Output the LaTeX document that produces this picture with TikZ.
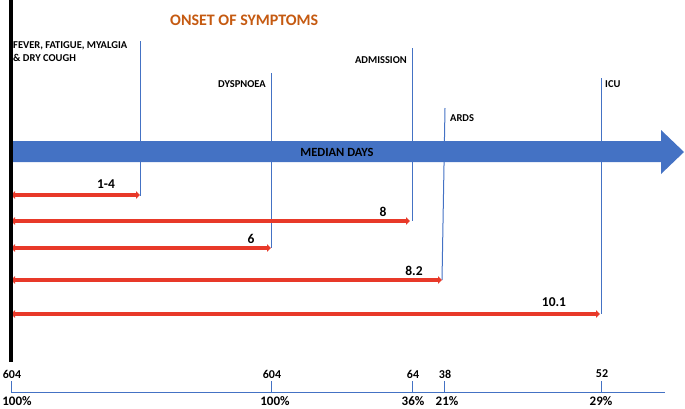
\documentclass[tikz,border=0pt]{standalone}
\usepackage{fontspec}
\setmainfont{Carlito}
\usetikzlibrary{arrows.meta}
\definecolor{obl}{RGB}{68,114,196}
\definecolor{otitle}{RGB}{197,90,17}
\definecolor{rarr}{RGB}{232,57,41}
\begin{document}
\begin{tikzpicture}[x=1pt,y=-1pt,
  evline/.style={obl, line width=1pt},
  durarrow/.style={rarr, line width=3.2pt, {Triangle[length=4pt,width=7.5pt]}-{Triangle[length=4pt,width=7.5pt]}},
  lbl/.style={font=\bfseries\fontsize{10.5}{13}\selectfont, inner sep=0pt},
  num/.style={font=\bfseries\fontsize{13.5}{15}\selectfont, inner sep=0pt},
  axnum/.style={font=\bfseries\fontsize{12}{14}\selectfont, inner sep=0pt},
  axpct/.style={font=\bfseries\fontsize{13}{15}\selectfont, inner sep=0pt}]
\useasboundingbox (0,0) rectangle (685,408);
% title
\node[inner sep=0pt, anchor=west, text=otitle, font=\bfseries\fontsize{16}{18}\selectfont] (title) at (170,20) {ONSET OF SYMPTOMS};
% event labels
\node[lbl, anchor=north west, align=left] (fever) at (13,41) {FEVER, FATIGUE, MYALGIA\\\& DRY COUGH};
\node[lbl, anchor=east] (dysp) at (266,84) {DYSPNOEA};
\node[lbl, anchor=east] (adm) at (407,60) {ADMISSION};
\node[lbl, anchor=west] (ards) at (450,118) {ARDS};
\node[lbl, anchor=west] (icu) at (605,84) {ICU};
% event line coordinates
\coordinate (fT) at (140,41);  \coordinate (fB) at (140,196);
\coordinate (dT) at (271,73);  \coordinate (dB) at (271,248);
\coordinate (aT) at (412,48);  \coordinate (aB) at (412,221);
\coordinate (rT) at (445,108); \coordinate (rB) at (442,280);
\coordinate (iT) at (601,78);  \coordinate (iB) at (601,314);
\draw[evline] (fT) -- (fB);
\draw[evline] (dT) -- (dB);
\draw[evline] (aT) -- (aB);
\draw[evline] (rT) -- (rB);
\draw[evline] (iT) -- (iB);
% big arrow
\fill[obl] (11,141) -- (661,141) -- (661,130) -- (684,152) -- (661,174) -- (661,162) -- (11,162) -- cycle;
\node[inner sep=0pt, font=\bfseries\fontsize{12.5}{14}\selectfont] (median) at (337,152) {MEDIAN DAYS};
% duration arrows
\coordinate (s1) at (11,195); \coordinate (s2) at (11,221); \coordinate (s3) at (11,248);
\coordinate (s4) at (11,280); \coordinate (s5) at (11,314);
\draw[durarrow] (s1) -- (fB |- s1);
\draw[durarrow] (s2) -- (410,221);
\draw[durarrow] (s3) -- (dB);
\draw[durarrow] (s4) -- (rB);
\draw[durarrow] (s5) -- (600,314);
\node[num] (n1) at (106,184) {1-4};
\node[num] (n2) at (383,212) {8};
\node[num] (n3) at (251,239) {6};
\node[num] (n4) at (414,271) {8.2};
\node[num] (n5) at (554,302) {10.1};
% black bar
\draw[line width=4pt] (11,0) -- (11,362);
% bottom axis
\coordinate (axL) at (11,392); \coordinate (axR) at (665,392);
\draw[obl, line width=1pt] (axL) -- (axR);
\foreach \x/\n/\p/\px in {11/604/100\%/17, 271/604/100\%/275, 412/64/36\%/413, 444/38/21\%/447, 601/52/29\%/601}{
  \draw[obl, line width=1pt] (\x,381) -- (\x,392);
  \node[axnum] at (\x+1,374) {\n};
  \node[axpct, anchor=south] at (\px,406) {\p};
}
\end{tikzpicture}
\end{document}
